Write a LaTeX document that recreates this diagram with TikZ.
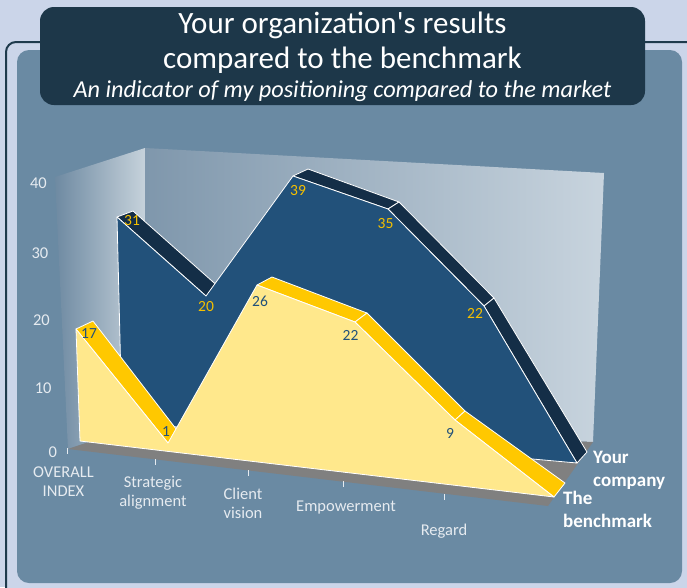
\documentclass[tikz,border=0pt]{standalone}
\usepackage{fontspec}
\setmainfont{Carlito}
\definecolor{bgout}{HTML}{CBD5E9}
\definecolor{framec}{HTML}{1E3A4C}
\definecolor{panelc}{HTML}{6A8AA3}
\definecolor{titlec}{HTML}{1D3749}
\definecolor{wallL}{HTML}{7F97AC}
\definecolor{wallR}{HTML}{C8D4DE}
\definecolor{sideL}{HTML}{6E8AA2}
\definecolor{sideR}{HTML}{C6D2DB}
\definecolor{floorc}{HTML}{808080}
\definecolor{blueface}{HTML}{22517A}
\definecolor{blueband}{HTML}{142E47}
\definecolor{yface}{HTML}{FFE88C}
\definecolor{yband}{HTML}{FFC800}
\definecolor{labyel}{HTML}{F5C000}
\definecolor{axistxt}{HTML}{E6EBF0}
\begin{document}
\begin{tikzpicture}[x=1pt,y=-1pt,
  facestyle/.style={draw=white, line width=0.8pt, line join=round},
  axislab/.style={text=axistxt, font=\fontsize{16.5}{19.5}\selectfont, align=center, inner sep=0pt},
  ylab/.style={text=axistxt, font=\fontsize{16.5}{19.5}\selectfont, anchor=east, inner sep=0pt},
  datalabY/.style={text=labyel, font=\fontsize{15.5}{18}\selectfont, inner sep=0pt},
  datalabB/.style={text=blueface, font=\fontsize{15.5}{18}\selectfont, inner sep=0pt},
  serieslab/.style={text=white, font=\bfseries\fontsize{19}{23}\selectfont, align=left, anchor=west, inner sep=0pt},
  titletxt/.style={text=white, anchor=base, inner sep=0pt, font=\fontsize{31}{35}\selectfont},
  tickmark/.style={draw=axistxt, line width=0.9pt}]
\path[use as bounding box, fill=bgout] (0,0) rectangle (687,587);
% frame and panel
\draw[draw=framec, line width=2pt, rounded corners=10pt, fill=bgout] (6,42) rectangle (705,610);
\fill[panelc, rounded corners=12pt] (17,50) rectangle (682,583);
% walls
\shade[left color=sideL, right color=sideR] (55,177) -- (145,148) -- (145,423) -- (68,449) -- cycle;
\shade[left color=wallL, right color=wallR] (145,148) -- (604,173) -- (593,442) -- (145,423) -- cycle;
% floor
\fill[floorc] (68,449) -- (145,423) -- (593,442) -- (548,506) -- cycle;
% Your company points
\coordinate (bL) at (122,422);
\coordinate (bF1) at (117,217); \coordinate (bB1) at (133,211);
\coordinate (bF2) at (206,296); \coordinate (bB2) at (221,289);
\coordinate (bF3) at (293,176); \coordinate (bB3) at (308,169);
\coordinate (bF4) at (388,209); \coordinate (bB4) at (399,202);
\coordinate (bF5) at (484,306); \coordinate (bB5) at (494,298);
\coordinate (bF6) at (577,463); \coordinate (bB6) at (587,452);
% benchmark points
\coordinate (yL) at (80,441);
\coordinate (yF1) at (76,329); \coordinate (yB1) at (93,321);
\coordinate (yF2) at (168,443); \coordinate (yB2) at (180,434);
\coordinate (yF3) at (257,285); \coordinate (yB3) at (272,277);
\coordinate (yF4) at (355,322); \coordinate (yB4) at (367,313);
\coordinate (yF5) at (455,420); \coordinate (yB5) at (465,411);
\coordinate (yF6) at (554,497); \coordinate (yB6) at (565,483);
% blue bands
\filldraw[facestyle, fill=blueband] (bF1) -- (bB1) -- (bB2) -- (bF2) -- cycle;
\filldraw[facestyle, fill=blueband] (bF3) -- (bB3) -- (bB4) -- (bF4) -- cycle;
\filldraw[facestyle, fill=blueband] (bF4) -- (bB4) -- (bB5) -- (bF5) -- cycle;
\filldraw[facestyle, fill=blueband] (bF5) -- (bB5) -- (bB6) -- (bF6) -- cycle;
% blue face
\filldraw[facestyle, fill=blueface] (bL) -- (bF1) -- (bF2) -- (bF3) -- (bF4) -- (bF5) -- (bF6) -- cycle;
% yellow bands
\filldraw[facestyle, fill=yband] (yF1) -- (yB1) -- (yB2) -- (yF2) -- cycle;
\filldraw[facestyle, fill=yband] (yF3) -- (yB3) -- (yB4) -- (yF4) -- cycle;
\filldraw[facestyle, fill=yband] (yF4) -- (yB4) -- (yB5) -- (yF5) -- cycle;
\filldraw[facestyle, fill=yband] (yF5) -- (yB5) -- (yB6) -- (yF6) -- cycle;
% yellow face
\filldraw[facestyle, fill=yface] (yL) -- (yF1) -- (yF2) -- (yF3) -- (yF4) -- (yF5) -- (yF6) -- cycle;
% data labels
\node[datalabY] (l31) at (132,221) {31};
\node[datalabY] (l20) at (206,307) {20};
\node[datalabY] (l39) at (298,191) {39};
\node[datalabY] (l35) at (385.5,224) {35};
\node[datalabY] (l22a) at (475,313) {22};
\node[datalabB] (l17) at (89,334) {17};
\node[datalabB] (l1) at (166,432) {1};
\node[datalabB] (l26) at (260,301) {26};
\node[datalabB] (l22b) at (350.5,335) {22};
\node[datalabB] (l9) at (450,433) {9};
% y axis labels
\node[ylab] (y40) at (47,182.7) {40};
\node[ylab] (y30) at (48.5,253) {30};
\node[ylab] (y20) at (50,320) {20};
\node[ylab] (y10) at (51.7,387.7) {10};
\node[ylab] (y0) at (57.3,452) {0};
% ticks
\draw[tickmark] (67,448) -- (67,454);
\draw[tickmark] (155,459) -- (155,465);
\draw[tickmark] (248,470) -- (248,476);
\draw[tickmark] (343,481) -- (343,487);
\draw[tickmark] (444,494) -- (444,500);
% x axis labels
\node[axislab] (c1) at (63.5,481.5) {OVERALL\\INDEX};
\node[axislab] (c2) at (153,492.5) {Strategic\\alignment};
\node[axislab] (c3) at (243,503.5) {Client\\vision};
\node[axislab] (c4) at (346,507.3) {Empowerment};
\node[axislab] (c5) at (444,531) {Regard};
% series labels
\node[serieslab] (s1) at (593,470) {Your\\company};
\node[serieslab] (s2) at (563,509) {The\\benchmark};
% title
\fill[titlec, rounded corners=14pt] (40,7) rectangle (645,105);
\node[titletxt] (t1) at (342.5,33.3) {Your organization\textquotesingle s results};
\node[titletxt] (t2) at (342.5,68.3) {compared to the benchmark};
\node[titletxt, font=\itshape\fontsize{24.3}{28}\selectfont] (t3) at (342.5,97.3) {An indicator of my positioning compared to the market};
\end{tikzpicture}
\end{document}
